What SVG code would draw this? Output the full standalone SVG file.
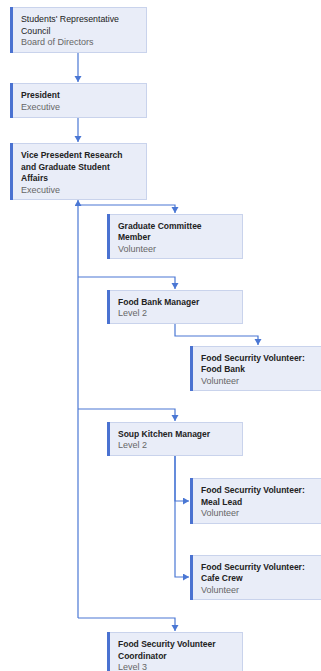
<svg xmlns="http://www.w3.org/2000/svg" width="321" height="671" viewBox="0 0 321 671">
<style>
.box{fill:#e9edf8;stroke:#c9d3ec;stroke-width:1}
.bar{fill:#4a72d1}
.t{font-family:"Liberation Sans",Arial,sans-serif;font-size:8.5px;font-weight:bold;fill:#222}
.tr{font-family:"Liberation Sans",Arial,sans-serif;font-size:8.8px;fill:#222}
.s{font-family:"Liberation Sans",Arial,sans-serif;font-size:9px;fill:#666}
.c{fill:none;stroke:#4a77d4;stroke-width:1.2}
</style>
<defs>
<marker id="ah" markerUnits="userSpaceOnUse" markerWidth="8" markerHeight="8" refX="6" refY="3.5" orient="auto">
<path d="M0,0 L6,3.5 L0,7 z" fill="#4a77d4"/>
</marker>
</defs>
<g id="connectors">
<path class="c" d="M78,52 V82" marker-end="url(#ah)"/>
<path class="c" d="M78,117 V142" marker-end="url(#ah)"/>
<path class="c" d="M78,618 V200" marker-end="url(#ah)"/>
<path class="c" d="M78,205 H175 V213" marker-end="url(#ah)"/>
<path class="c" d="M78,277 H175 V289" marker-end="url(#ah)"/>
<path class="c" d="M78,409 H175 V421" marker-end="url(#ah)"/>
<path class="c" d="M78,618 H175 V631" marker-end="url(#ah)"/>
<path class="c" d="M175,323 V336 H258 V345" marker-end="url(#ah)"/>
<path class="c" d="M175,455 V501 H189" marker-end="url(#ah)"/>
<path class="c" d="M175,455 V577 H189" marker-end="url(#ah)"/>
</g>
<g id="n1">
<rect class="box" x="10.5" y="7.5" width="136" height="45"/>
<rect class="bar" x="10" y="7" width="3" height="46"/>
<text class="tr" x="21" y="22">Students' Representative</text>
<text class="tr" x="21" y="33.5">Council</text>
<text class="s" x="21" y="45">Board of Directors</text>
</g>
<g id="n2">
<rect class="box" x="10.5" y="83.5" width="136" height="34"/>
<rect class="bar" x="10" y="83" width="3" height="35"/>
<text class="t" x="21" y="98">President</text>
<text class="s" x="21" y="109.5">Executive</text>
</g>
<g id="n3">
<rect class="box" x="10.5" y="143.5" width="136" height="56"/>
<rect class="bar" x="10" y="143" width="3" height="57"/>
<text class="t" x="21" y="158">Vice Presedent Research</text>
<text class="t" x="21" y="169.5">and Graduate Student</text>
<text class="t" x="21" y="181">Affairs</text>
<text class="s" x="21" y="192.5">Executive</text>
</g>
<g id="n4">
<rect class="box" x="107.5" y="214.5" width="135" height="44"/>
<rect class="bar" x="107" y="214" width="3" height="45"/>
<text class="t" x="118" y="228.5">Graduate Committee</text>
<text class="t" x="118" y="240">Member</text>
<text class="s" x="118" y="251.5">Volunteer</text>
</g>
<g id="n5">
<rect class="box" x="107.5" y="290.5" width="135" height="33"/>
<rect class="bar" x="107" y="290" width="3" height="34"/>
<text class="t" x="118" y="304.5">Food Bank Manager</text>
<text class="s" x="118" y="316">Level 2</text>
</g>
<g id="n6">
<rect class="box" x="190.5" y="346.5" width="136" height="44"/>
<rect class="bar" x="190" y="346" width="3" height="45"/>
<text class="t" x="201" y="360.5">Food Securrity Volunteer:</text>
<text class="t" x="201" y="372">Food Bank</text>
<text class="s" x="201" y="383.5">Volunteer</text>
</g>
<g id="n7">
<rect class="box" x="107.5" y="422.5" width="135" height="33"/>
<rect class="bar" x="107" y="422" width="3" height="34"/>
<text class="t" x="118" y="436.5">Soup Kitchen Manager</text>
<text class="s" x="118" y="448">Level 2</text>
</g>
<g id="n8">
<rect class="box" x="190.5" y="478.5" width="136" height="45"/>
<rect class="bar" x="190" y="478" width="3" height="46"/>
<text class="t" x="201" y="493">Food Securrity Volunteer:</text>
<text class="t" x="201" y="504.5">Meal Lead</text>
<text class="s" x="201" y="516">Volunteer</text>
</g>
<g id="n9">
<rect class="box" x="190.5" y="555.5" width="136" height="44"/>
<rect class="bar" x="190" y="555" width="3" height="45"/>
<text class="t" x="201" y="569.5">Food Securrity Volunteer:</text>
<text class="t" x="201" y="581">Cafe Crew</text>
<text class="s" x="201" y="592.5">Volunteer</text>
</g>
<g id="n10">
<rect class="box" x="107.5" y="632.5" width="135" height="45"/>
<rect class="bar" x="107" y="632" width="3" height="46"/>
<text class="t" x="118" y="647">Food Security Volunteer</text>
<text class="t" x="118" y="658.5">Coordinator</text>
<text class="s" x="118" y="670">Level 3</text>
</g>
</svg>
